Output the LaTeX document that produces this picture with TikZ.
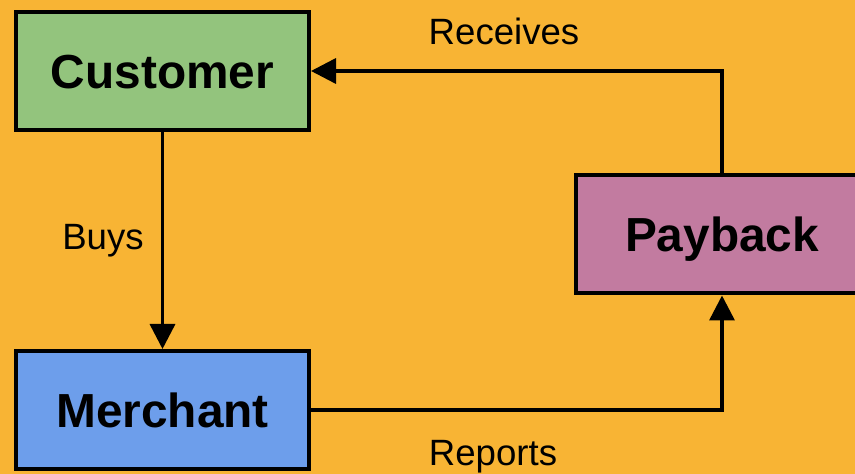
\documentclass[tikz,border=0pt]{standalone}
\usepackage{fontspec}
\setmainfont{Liberation Sans}
\usetikzlibrary{arrows.meta}

\definecolor{bgColor}{RGB}{248,180,52}
\definecolor{customerColor}{RGB}{147,196,125}
\definecolor{merchantColor}{RGB}{109,158,235}
\definecolor{paybackColor}{RGB}{194,123,160}

\tikzset{
  box/.style={draw=black,line width=4pt,minimum width=293pt,minimum height=118pt,
    inner sep=0pt,text height=34.2pt,text depth=0pt,
    font=\fontsize{47.8}{52}\selectfont\bfseries},
  flow/.style={draw=black,line width=3.5pt,-{Triangle[length=25pt,width=25pt]}},
  tag/.style={inner sep=0pt,text height=26.2pt,text depth=0pt,
    font=\fontsize{36.6}{40}\selectfont}
}

\begin{document}
\begin{tikzpicture}[x=1pt,y=1pt]
\path[use as bounding box,fill=bgColor] (0,0) rectangle (855,474);
\begin{scope}
\path[clip] (0,0) rectangle (855,474);

\node[box,fill=customerColor] (customer) at (162.5,403) {Customer};
\node[box,fill=merchantColor] (merchant) at (162.5,64) {Merchant};
\node[box,fill=paybackColor] (payback) at (722,239.5) {Payback};

\draw[flow] (customer) -- (merchant);
\draw[flow] (payback.north) |- (customer.east);
\draw[flow] (merchant.east) -| (payback.south);

\node[tag] (receives) at (504,443) {Receives};
\node[tag] (buys) at (103,238) {Buys};
\node[tag] (reports) at (493,22) {Reports};
\end{scope}
\end{tikzpicture}
\end{document}
